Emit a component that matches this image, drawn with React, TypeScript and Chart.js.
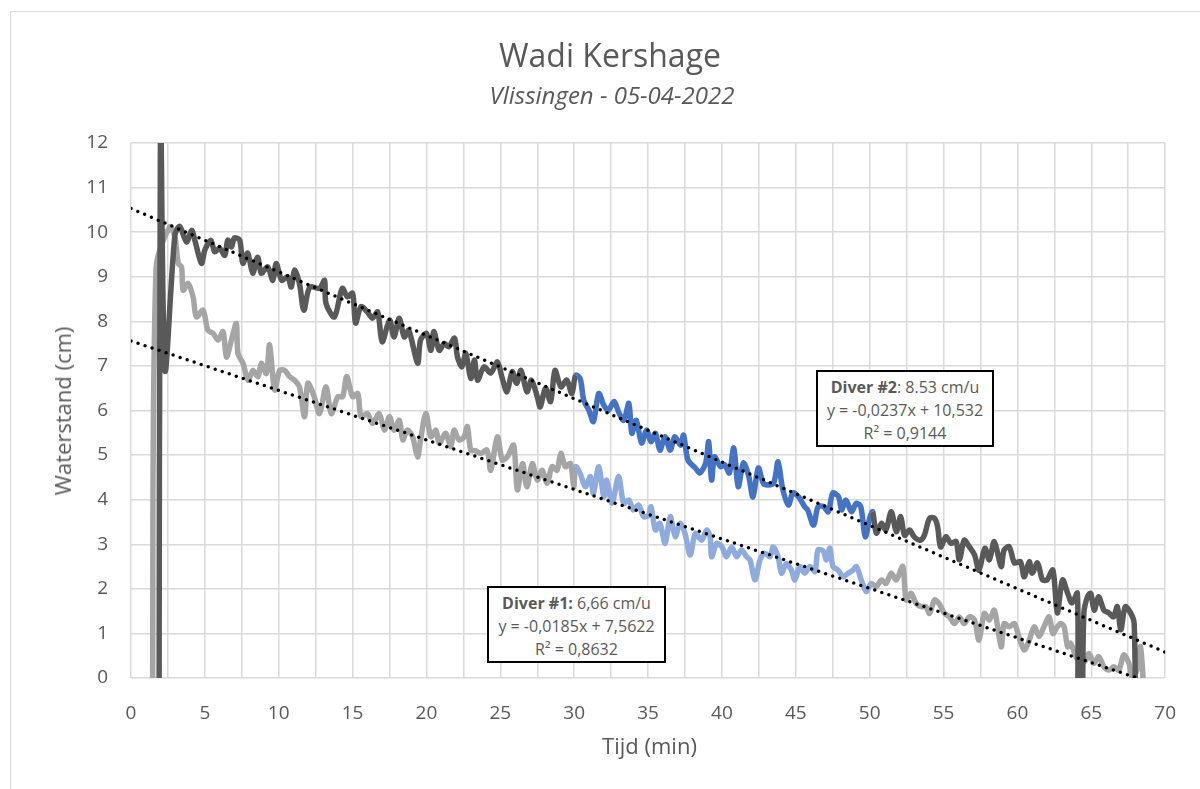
import React, { useEffect, useRef } from "react";
import { Chart, registerables } from "chart.js";

Chart.register(...registerables);

// ---- Data ----
// Diver #2 (dark line, blue between 30 and 50 min)
const TIME_2 = [
  1.9, 2.0, 2.3, 2.97, 3.3, 3.76, 4.1, 4.32, 4.77, 5.0, 5.4, 5.67, 6.0, 6.35, 6.55, 6.8, 7.0, 7.36, 7.57, 7.9,
  8.24, 8.57, 8.82, 9.25, 9.6, 9.83, 10.2, 10.6, 10.85, 11.07, 11.4, 11.7, 12.1, 12.76, 13.1, 13.2, 13.77, 14.3, 14.65, 15.0,
  15.2, 15.57, 16.0, 16.35, 16.7, 17.0, 17.5, 17.8, 18.15, 18.5, 18.8, 19.4, 19.6, 20.0, 20.3, 20.5, 20.86, 21.2, 21.5, 21.9,
  22.1, 22.4, 22.66, 23.0, 23.25, 23.45, 23.9, 24.35, 24.8, 25.1, 25.45, 25.8, 26.1, 26.4, 26.8, 27.1, 27.5, 27.7, 28.05, 28.4,
  28.7, 29.1, 29.5, 29.84, 30.1, 30.4, 30.65, 31.0, 31.3, 31.66, 32.0, 32.3, 32.7, 33.0, 33.35, 33.7, 33.9, 34.2, 34.56, 34.9,
  35.2, 35.5, 35.8, 36.15, 36.5, 36.8, 37.2, 37.4, 37.7, 38.2, 38.5, 38.9, 39.1, 39.3, 39.5, 39.9, 40.2, 40.5, 40.8, 41.1,
  41.45, 41.8, 42.1, 42.46, 42.8, 43.1, 43.5, 43.8, 44.1, 44.5, 44.8, 45.2, 45.6, 45.8, 46.2, 46.5, 46.85, 47.2, 47.5, 47.9,
  48.1, 48.4, 48.76, 49.1, 49.4, 49.7, 50.0, 50.2, 50.45, 50.8, 51.1, 51.46, 51.8, 52.1, 52.36, 52.7, 53.0, 53.4, 53.7, 54.05,
  54.4, 54.6, 54.8, 55.17, 55.5, 55.85, 56.07, 56.4, 56.75, 57.1, 57.4, 57.8, 58.1, 58.44, 58.9, 59.1, 59.45, 59.8, 60.2, 60.46,
  60.8, 61.0, 61.36, 61.7, 62.0, 62.4, 62.7, 63.05, 63.4, 63.7, 64.06, 64.12, 64.35, 64.5, 64.74, 64.96, 65.2, 65.5, 65.86, 66.2,
  66.5, 66.76, 67.0, 67.3, 67.66, 67.9, 68.0,
];
const LEVEL_2 = [
  -1, 13, 6.9, 9.93, 10.13, 9.78, 10.04, 9.82, 9.3, 9.6, 9.82, 9.56, 9.64, 9.48, 9.82, 9.67, 9.87, 9.82, 9.3, 9.53,
  9.08, 9.44, 9.08, 9.22, 8.92, 9.3, 8.92, 9.0, 8.77, 9.15, 8.85, 8.25, 8.77, 8.74, 8.92, 8.4, 8.1, 8.74, 8.55, 8.63,
  7.96, 8.33, 8.21, 8.07, 8.21, 7.54, 8.03, 7.65, 8.07, 7.65, 7.8, 7.06, 7.58, 7.73, 7.35, 7.77, 7.35, 7.5, 7.43, 7.62,
  7.2, 6.98, 7.28, 6.72, 7.13, 6.68, 6.98, 6.84, 7.09, 6.76, 6.42, 6.87, 6.61, 6.9, 6.42, 6.68, 6.31, 6.08, 6.5, 6.2,
  6.9, 6.53, 6.68, 6.38, 6.79, 6.72, 6.23, 6.0, 5.75, 6.38, 6.12, 6.0, 6.2, 5.97, 5.78, 6.16, 5.49, 5.78, 5.27, 5.56,
  5.3, 5.49, 5.11, 5.41, 5.11, 5.41, 5.22, 5.45, 4.89, 4.71, 4.6, 4.82, 5.3, 4.44, 4.96, 4.74, 4.78, 4.6, 5.16, 4.29,
  4.82, 4.55, 4.06, 4.71, 4.37, 4.33, 4.37, 4.85, 4.26, 3.88, 4.15, 4.06, 3.84, 3.77, 3.43, 3.84, 3.85, 3.73, 4.15, 4.06,
  3.77, 3.99, 3.73, 3.92, 3.84, 3.17, 3.58, 3.73, 3.25, 3.47, 3.32, 3.73, 3.28, 3.62, 3.2, 3.32, 3.17, 3.09, 3.2, 3.58,
  3.58, 3.39, 2.94, 3.17, 3.02, 3.06, 2.65, 3.09, 2.94, 2.76, 2.42, 2.91, 2.65, 3.06, 2.5, 2.87, 2.94, 2.58, 2.61, 2.27,
  2.61, 2.35, 2.58, 2.2, 2.2, 2.42, 1.46, 2.2, 1.9, 1.68, 1.9, -1, -1, 1.46, 1.82, 1.9, 1.52, 1.82, 1.52, 1.46,
  1.37, 1.6, 1.08, 1.6, 1.46, 1.23, -1,
];

// Diver #1 (light grey line, light blue between 30 and 50 min)
const TIME_1 = [
  1.45, 1.7, 2.63, 2.97, 3.2, 3.42, 3.53, 3.87, 4.2, 4.43, 4.88, 5.2, 5.56, 5.9, 6.23, 6.46, 6.8, 7.13, 7.24, 7.58,
  7.92, 8.26, 8.6, 8.82, 9.16, 9.38, 9.72, 10.06, 10.4, 10.73, 11.07, 11.4, 11.75, 11.97, 12.4, 12.76, 13.2, 13.55, 14.0, 14.33,
  14.6, 15.0, 15.35, 15.57, 16.0, 16.36, 16.8, 17.15, 17.5, 17.8, 18.16, 18.4, 18.7, 19.06, 19.4, 19.6, 19.96, 20.3, 20.64, 20.86,
  21.3, 21.65, 21.87, 22.2, 22.55, 22.77, 23.0, 23.3, 23.67, 24.1, 24.35, 24.8, 25.13, 25.47, 25.9, 26.15, 26.5, 26.8, 27.16, 27.5,
  27.83, 28.17, 28.5, 28.84, 29.1, 29.4, 29.75, 29.97, 30.1, 30.4, 30.76, 31.1, 31.3, 31.66, 32.0, 32.2, 32.56, 33.0, 33.35, 33.7,
  34.0, 34.36, 34.7, 35.03, 35.2, 35.5, 35.8, 36.16, 36.5, 36.84, 37.17, 37.5, 37.85, 38.2, 38.63, 38.97, 39.2, 39.3, 39.65, 40.0,
  40.3, 40.66, 41.0, 41.33, 41.67, 41.9, 42.24, 42.58, 42.9, 43.25, 43.47, 43.8, 44.03, 44.37, 44.7, 44.94, 45.27, 45.6, 45.95, 46.3,
  46.5, 46.85, 47.07, 47.3, 47.52, 47.86, 48.2, 48.54, 48.87, 49.1, 49.43, 49.77, 50.1, 50.45, 50.8, 51.1, 51.46, 51.8, 52.24, 52.47,
  52.8, 53.15, 53.5, 53.8, 54.05, 54.4, 54.7, 55.06, 55.4, 55.74, 56.07, 56.4, 56.75, 57.1, 57.4, 57.76, 58.1, 58.44, 58.9, 59.1,
  59.45, 59.8, 60.1, 60.46, 60.8, 61.14, 61.47, 61.8, 62.15, 62.4, 62.7, 62.94, 63.16, 63.4, 63.6, 63.96, 64.3, 64.63, 64.85, 65.2,
  65.5, 65.86, 66.2, 66.53, 66.87, 67.2, 67.55, 67.77, 68.1, 68.33, 68.6,
];
const LEVEL_1 = [
  -1, 9.2, 10.12, 9.9, 9.3, 9.22, 8.7, 8.85, 8.55, 8.1, 8.25, 7.8, 7.73, 7.58, 7.77, 7.2, 7.58, 7.95, 7.28, 7.06,
  6.68, 6.9, 6.76, 7.06, 6.83, 7.47, 6.46, 6.9, 6.9, 6.76, 6.68, 6.53, 5.86, 6.61, 6.31, 5.93, 6.53, 5.93, 6.31, 6.31,
  6.76, 6.31, 6.38, 5.86, 5.93, 5.71, 5.93, 5.56, 5.86, 5.56, 5.78, 5.34, 5.56, 5.41, 4.96, 5.34, 5.93, 5.41, 5.56, 5.26,
  5.49, 5.19, 5.56, 5.34, 5.41, 5.64, 5.11, 5.1, 5.04, 5.11, 4.66, 5.41, 4.89, 4.96, 5.22, 4.22, 4.81, 4.29, 4.81, 4.44,
  4.66, 4.37, 4.74, 4.66, 5.04, 4.74, 4.81, 4.29, 4.74, 4.59, 4.29, 4.52, 4.14, 4.74, 4.07, 4.44, 3.92, 4.52, 3.92, 3.99,
  3.77, 3.88, 3.62, 3.65, 3.84, 3.32, 3.47, 3.02, 3.62, 3.17, 3.47, 3.24, 2.76, 3.24, 3.09, 3.32, 3.17, 2.72, 3.02, 2.94,
  2.72, 2.94, 2.72, 2.87, 2.72, 2.65, 2.2, 2.65, 2.8, 2.72, 2.94, 2.72, 2.35, 2.57, 2.42, 2.2, 2.5, 2.35, 2.5, 2.39,
  2.87, 2.85, 2.65, 2.91, 2.5, 2.42, 2.27, 2.35, 2.42, 2.5, 2.2, 1.94, 2.12, 2.05, 2.2, 2.12, 2.35, 2.2, 2.5, 1.75,
  1.9, 1.67, 1.6, 1.6, 1.45, 1.75, 1.67, 1.45, 1.37, 1.22, 1.37, 1.22, 1.37, 1.3, 0.85, 1.45, 1.3, 1.52, 0.7, 1.22,
  1.15, 1.22, 0.93, 0.63, 0.85, 1.15, 0.93, 1.15, 1.37, 1.0, 1.15, 1.22, 1.15, 0.7, 0.78, 0.48, 0.33, 0.4, 0.55, 0.33,
  0.48, 0.25, 0.18, 0.25, 0.18, 0.52, 0.33, 0.03, 0.18, 0.7, -0.5,
];

// Trend lines (end points)
const TREND_X = [0, 70];
const TREND_2 = [10.53, 0.58];
const TREND_1 = [7.56, -0.21];

// Highlighted interval (minutes)
const HIGHLIGHT_START = 30;
const HIGHLIGHT_END = 50.1;

const X_MIN = 0;
const X_MAX = 70;
const X_GRID_STEP = 2.5;
const X_LABEL_STEP = 5;
const Y_MIN = 0;
const Y_MAX = 12;
const Y_STEP = 1;

const TITLE = "Wadi Kershage";
const SUBTITLE = "Vlissingen - 05-04-2022";
const X_TITLE = "Tijd (min)";
const Y_TITLE = "Waterstand (cm)";

const DARK = "#595959";
const LIGHT = "#A5A5A5";
const BLUE = "#4472C4";
const LIGHT_BLUE = "#8FAADC";
const GRID = "#D9D9D9";
const TEXT = "#595959";
const FONT = "'Open Sans', sans-serif";

const W = 1200;
const H = 789;
const PLOT_LEFT = 131;
const PLOT_RIGHT = 1168;
const PLOT_TOP = 143;
const PLOT_BOTTOM = 678;

function toPoints(xs: number[], ys: number[]) {
  return xs.map((x, i) => ({ x, y: ys[i] }));
}

function inHighlight(x: number) {
  return x >= HIGHLIGHT_START && x < HIGHLIGHT_END;
}

export default function App() {
  const canvasRef = useRef<HTMLCanvasElement | null>(null);

  useEffect(() => {
    const canvas = canvasRef.current;
    if (!canvas) return;
    const lineCommon = {
      pointRadius: 0,
      pointHoverRadius: 0,
      borderWidth: 5.5,
      tension: 0.3,
      fill: false,
      borderJoinStyle: "round" as const,
    };
    const trendCommon = {
      pointRadius: 0,
      borderWidth: 3.5,
      borderColor: "#000000",
      borderDash: [0, 7.4],
      borderCapStyle: "round" as const,
      tension: 0,
      fill: false,
      order: 0,
    };
    const chart = new Chart(canvas, {
      type: "line",
      data: {
        datasets: [
          { ...trendCommon, label: "trend2", data: toPoints(TREND_X, TREND_2) },
          { ...trendCommon, label: "trend1", data: toPoints(TREND_X, TREND_1) },
          {
            ...lineCommon,
            label: "Diver #2",
            data: toPoints(TIME_2, LEVEL_2),
            borderColor: DARK,
            order: 1,
            segment: {
              borderColor: (ctx: any) => (inHighlight(ctx.p0.parsed.x) ? BLUE : DARK),
            },
          },
          {
            ...lineCommon,
            label: "Diver #1",
            data: toPoints(TIME_1, LEVEL_1),
            borderColor: LIGHT,
            order: 2,
            segment: {
              borderColor: (ctx: any) => (inHighlight(ctx.p0.parsed.x) ? LIGHT_BLUE : LIGHT),
            },
          },
        ] as any,
      },
      options: {
        animation: false,
        responsive: false,
        maintainAspectRatio: false,
        parsing: false as any,
        normalized: true,
        layout: {
          padding: { left: 0, top: PLOT_TOP, right: W - PLOT_RIGHT, bottom: 0 },
        },
        plugins: {
          legend: { display: false },
          tooltip: { enabled: false },
          title: { display: false },
        },
        scales: {
          x: {
            type: "linear",
            min: X_MIN,
            max: X_MAX,
            afterFit: (s: any) => {
              s.height = H - PLOT_BOTTOM;
            },
            border: { display: false },
            grid: { color: GRID, lineWidth: 1.5, drawTicks: false },
            ticks: {
              stepSize: X_GRID_STEP,
              autoSkip: false,
              maxRotation: 0,
              padding: 24,
              color: TEXT,
              font: { family: FONT, size: 19 },
              callback: (v: any) => (Number(v) % X_LABEL_STEP === 0 ? String(v) : ""),
            },
          },
          y: {
            type: "linear",
            min: Y_MIN,
            max: Y_MAX,
            afterFit: (s: any) => {
              s.width = PLOT_LEFT;
            },
            border: { display: false },
            grid: { color: GRID, lineWidth: 1.5, drawTicks: false },
            ticks: {
              stepSize: Y_STEP,
              padding: 23,
              color: TEXT,
              font: { family: FONT, size: 19 },
            },
          },
        },
      } as any,
    });
    return () => chart.destroy();
  }, []);

  const boxStyle: React.CSSProperties = {
    position: "absolute",
    border: "2px solid #000",
    background: "#fff",
    color: TEXT,
    fontFamily: FONT,
    fontSize: 16,
    lineHeight: "23px",
    textAlign: "center",
    boxSizing: "border-box",
    paddingTop: 4,
    whiteSpace: "nowrap",
  };

  return (
    <div
      style={{
        position: "fixed",
        left: 0,
        top: 0,
        width: W,
        height: H,
        overflow: "hidden",
        background: "#fff",
      }}
    >
      <div
        style={{
          position: "absolute",
          left: 10,
          top: 11,
          width: W + 20,
          height: H + 20,
          borderTop: `1px solid ${GRID}`,
          borderLeft: `1px solid ${GRID}`,
        }}
      />
      <canvas ref={canvasRef} width={W} height={H} style={{ position: "absolute", left: 0, top: 0, width: W, height: H }} />
      <div
        style={{
          position: "absolute",
          left: 610,
          top: 55,
          transform: "translate(-50%, -50%)",
          fontFamily: FONT,
          fontSize: 32,
          lineHeight: 1,
          color: TEXT,
          whiteSpace: "nowrap",
        }}
      >
        {TITLE}
      </div>
      <div
        style={{
          position: "absolute",
          left: 612,
          top: 95,
          transform: "translate(-50%, -50%)",
          fontFamily: FONT,
          fontStyle: "italic",
          fontSize: 24,
          lineHeight: 1,
          color: TEXT,
          whiteSpace: "nowrap",
        }}
      >
        {SUBTITLE}
      </div>
      <div
        style={{
          position: "absolute",
          left: 62,
          top: (PLOT_TOP + PLOT_BOTTOM) / 2,
          transform: "translate(-50%, -50%) rotate(-90deg)",
          fontFamily: FONT,
          fontSize: 22,
          lineHeight: 1,
          color: TEXT,
          whiteSpace: "nowrap",
        }}
      >
        {Y_TITLE}
      </div>
      <div
        style={{
          position: "absolute",
          left: (PLOT_LEFT + PLOT_RIGHT) / 2,
          top: 745,
          transform: "translate(-50%, -50%)",
          fontFamily: FONT,
          fontSize: 22,
          lineHeight: 1,
          color: TEXT,
          whiteSpace: "nowrap",
        }}
      >
        {X_TITLE}
      </div>
      <div style={{ ...boxStyle, left: 816, top: 370, width: 178, height: 77 }}>
        <div>
          <b>Diver #2</b>: 8.53 cm/u
        </div>
        <div>y = -0,0237x + 10,532</div>
        <div>R² = 0,9144</div>
      </div>
      <div style={{ ...boxStyle, left: 487, top: 586, width: 179, height: 77 }}>
        <div>
          <b>Diver #1:</b> 6,66 cm/u
        </div>
        <div>y = -0,0185x + 7,5622</div>
        <div>R² = 0,8632</div>
      </div>
    </div>
  );
}
